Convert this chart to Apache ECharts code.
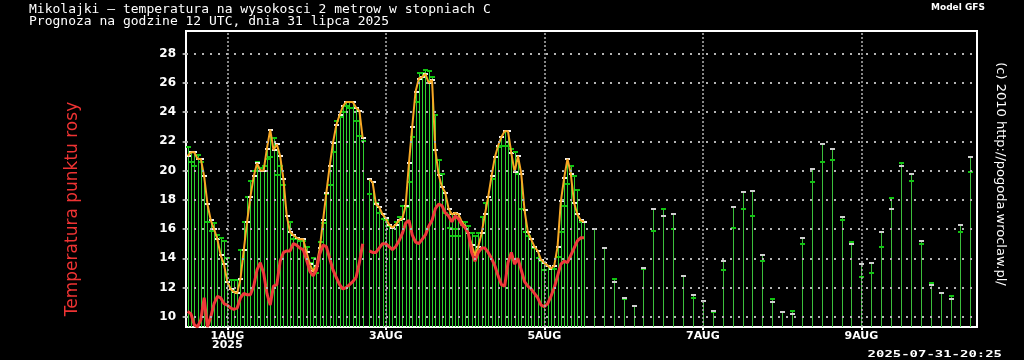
<!DOCTYPE html>
<html>
<head>
<meta charset="utf-8">
<script src="https://cdn.jsdelivr.net/npm/echarts@6/dist/echarts.min.js"></script>
<style>
html, body { margin: 0; background: #000; }
#chart { width: 1024px; height: 360px; }
</style>
</head>
<body>
<div id="chart"></div>
<script>
// godziny od 31 lipca 12 UTC; co godzine do h120, potem co 3h
var hourlyTemp = [21.0, 21.25, 21.25, 20.8, 20.8, 19.6, 17.7, 16.6, 16.0, 15.3,
    14.2, 13.6, 12.4, 11.9, 11.7, 11.6, 12.6, 14.6, 16.5, 18.2,
    19.6, 20.5, 20.0, 20.0, 21.5, 22.8, 21.4, 21.8, 21.0, 19.4,
    16.9, 15.8, 15.6, 15.4, 15.3, 15.3, 14.4, 13.6, 13.1, 13.5,
    14.7, 16.6, 18.5, 20.3, 21.9, 23.1, 23.8, 24.4, 24.7, 24.7,
    24.7, 24.3, 24.1, 22.2, null, 19.4, 19.2, 17.7, 17.5, 17.0,
    16.75, 16.3, 16.1, 16.3, 16.6, 16.7, 17.6, 20.5, 23.0, 25.4,
    26.3, 26.4, 26.6, 26.0, 26.2, 21.4, 19.7, 18.9, 18.5, 17.4,
    17.0, 17.1, 17.0, 16.5, 16.2, 15.7, 14.9, 14.2, 14.8, 15.7,
    17.0, 18.2, 19.6, 20.9, 21.7, 22.3, 22.7, 22.7, 21.2, 19.9,
    21.0, 19.8, 17.3, 15.8, 15.3, 14.8, 14.5, 13.9, 13.7, 13.5,
    13.3, 13.5, 14.8, 17.9, 19.5, 20.8, 19.8, 17.8, 17.0, 16.6,
    16.5];
// zielone kreski
var hourlyGreen = [21.6, 20.6, 20.3, 21.1, 20.6, 19.6, 16.5, 15.9, 16.4, 15.6,
    15.4, 15.2, 14.0, 12.5, 12.5, 12.5, 14.6, 16.5, 18.2, 19.3,
    20.0, 20.6, 20.2, 20.3, 20.8, 20.9, 22.2, 19.7, 20.3, 19.0,
    16.9, 16.5, 15.3, 15.3, 15.2, 15.2, 14.8, 13.7, 14.0, 13.0,
    15.1, 16.4, 18.4, 19.0, 21.3, 23.4, 23.7, 24.0, 24.4, 24.3,
    24.3, 23.4, 22.4, 22.0, null, 18.4, 19.2, 17.8, 17.1, 16.7,
    16.6, 16.2, 16.1, 16.5, 16.8, 17.6, 17.5, 19.2, 22.3, 24.7,
    26.7, 26.7, 26.9, 26.8, 26.4, 23.8, 20.7, 19.8, 17.1, 16.1,
    15.5, 16.0, 15.5, 16.3, 16.5, 16.2, 15.7, 15.5, 15.7, 16.8,
    17.8, 18.2, 19.4, 20.9, 21.6, 21.7, 21.7, 21.7, 21.5, 21.3,
    19.8, 17.4, 15.8, 15.5, 15.3, 14.7, 14.0, 13.8, 13.2, 13.5,
    13.3, 13.3, 14.1, 15.8, 17.6, 19.1, 20.3, 19.6, 18.7, 16.5,
    16.5];
var hourlyDew = [10.37, 10.2, 9.45, 9.3, 9.8, 11.3, 9.3, 10.0, 10.9, 11.4,
    11.3, 10.9, 10.8, 10.6, 10.5, 10.6, 11.3, 11.6, 11.5, 11.5,
    12.1, 13.2, 13.7, 13.0, 11.6, 10.8, 12.1, 12.2, 13.8, 14.4,
    14.5, 14.5, 15.0, 14.9, 14.7, 14.6, 13.9, 13.1, 12.8, 13.2,
    14.3, 14.9, 14.8, 14.0, 13.2, 12.7, 12.2, 11.9, 12.0, 12.2,
    12.4, 12.7, 13.7, 15.0, null, 14.5, 14.4, 14.4, 14.7, 15.0,
    15.0, 14.8, 14.6, 14.8, 15.2, 15.7, 16.4, 16.6, 15.6, 15.1,
    15.0, 15.3, 15.6, 16.2, 16.6, 17.4, 17.7, 17.6, 17.1, 16.9,
    16.5, 16.9, 16.7, 16.3, 16.1, 15.7, 14.4, 13.8, 14.4, 14.7,
    14.7, 14.4, 14.0, 13.5, 12.8, 12.2, 12.1, 13.7, 14.4, 13.6,
    14.0, 13.2, 12.4, 12.1, 11.9, 11.6, 11.3, 10.8, 10.7, 10.9,
    11.4, 12.0, 12.8, 13.6, 13.8, 13.7, 14.2, 14.7, 15.2, 15.4,
    15.4];

var sparseStart = 123;
var sparseStep = 3;
var sparseTemp = [16.0, 14.7, 12.4, 11.3, 10.75, 13.35, 17.4, 16.9, 17.0, 12.8,
    11.5, 11.1, 10.4, 13.8, 17.5, 18.55, 18.6, 14.2, 11.0, 10.3,
    10.2, 15.4, 20.1, 21.8, 21.5, 16.8, 15.0, 13.6, 13.7, 15.8,
    17.4, 20.3, 19.8, 15.2, 12.2, 11.6, 11.2, 16.3, 20.9];
var sparseGreen = [16.0, 14.7, 12.6, 11.2, 10.75, 13.25, 15.85, 17.4, 16.0, 12.8,
    11.3, 11.1, 10.3, 13.2, 16.1, 17.35, 16.9, 13.8, 11.2, 10.3,
    10.4, 15.0, 19.2, 20.6, 20.7, 16.6, 15.1, 12.7, 13.0, 14.8,
    18.1, 20.5, 19.3, 15.0, 12.3, 11.6, 11.4, 15.8, 19.9];

var yTicks = [10, 12, 14, 16, 18, 20, 22, 24, 26, 28];
var dayTicks = [12, 60, 108, 156, 204];
var dayLabels = ['1AUG\n2025', '3AUG', '5AUG', '7AUG', '9AUG'];
var yMin = 9.3, yMax = 29.55;

var hourlyItems = [], tempLine = [], dewLine = [];
hourlyTemp.forEach(function (t, h) {
    tempLine.push([h, t]);
    dewLine.push([h, hourlyDew[h]]);
    if (t != null || hourlyGreen[h] != null) hourlyItems.push([h, t, hourlyGreen[h]]);
});
var sparseItems = sparseTemp.map(function (t, i) {
    return [sparseStart + i * sparseStep, t, sparseGreen[i]];
});

function ok(v) { return v != null && !isNaN(v); }

function stemRenderer(stemColor, whiteColor) {
    return function (params, api) {
        var x = api.value(0), t = api.value(1), g = api.value(2);
        var vals = [t, g].filter(ok);
        if (!vals.length) return;
        var top = api.coord([x, Math.max.apply(null, vals)]);
        var base = api.coord([x, yMin]);
        var px = Math.round(top[0]) + 0.5; // ostra linia 1px
        var kids = [{
            type: 'line',
            shape: { x1: px, y1: base[1], x2: px, y2: top[1] },
            style: { stroke: stemColor, lineWidth: 1 }
        }];
        if (ok(g)) {
            var pg = api.coord([x, g]);
            kids.push({ type: 'rect', shape: { x: px - 2.5, y: Math.round(pg[1]) - 1, width: 5, height: 2 },
                style: { fill: '#12c412' } });
        }
        if (ok(t)) {
            var pt = api.coord([x, t]);
            kids.push({ type: 'rect', shape: { x: px - 2.5, y: Math.round(pt[1]) - 1, width: 5, height: 2 },
                style: { fill: whiteColor } });
        }
        return { type: 'group', children: kids };
    };
}

var dotColor = '#b4b4b4';

var myChart = echarts.init(document.getElementById('chart'));
var option = {
    backgroundColor: '#000',
    animation: false,
    title: {
        text: 'Mikolajki \u2014 temperatura na wysokosci 2 metrow w stopniach C\nPrognoza na godzine 12 UTC, dnia 31 lipca 2025',
        left: 29, top: 4, padding: 0,
        textStyle: { color: '#fff', fontFamily: 'DejaVu Sans Mono', fontSize: 13, fontWeight: 'normal', lineHeight: 12 }
    },
    graphic: [
        { type: 'text', left: 931, top: 3,
          style: { text: 'Model GFS', fill: '#fff', font: 'bold 9px "DejaVu Sans"' } },
        { type: 'text', x: 1000, y: 174, rotation: -Math.PI / 2,
          style: { text: '(c) 2010 http://pogoda.wroclaw.pl/', fill: '#fff', font: '13px "DejaVu Sans"',
                   align: 'center', verticalAlign: 'middle' } },
        { type: 'text', x: 73, y: 209, rotation: Math.PI / 2,
          style: { text: 'Temperatura punktu rosy', fill: '#ee3333', font: '17px "DejaVu Sans"',
                   align: 'center', verticalAlign: 'middle' } },
        { type: 'text', x: 1002, y: 355, scaleX: 1.55,
          style: { text: '2025-07-31-20:25', fill: '#fff', font: 'bold 9px "DejaVu Sans Mono"',
                   align: 'right', verticalAlign: 'middle' } }
    ],
    grid: {
        left: 186, right: 47, top: 31, bottom: 33,
        show: true, borderColor: '#fff', borderWidth: 2, backgroundColor: '#000'
    },
    xAxis: {
        type: 'value', min: -0.5, max: 239,
        axisLine: { show: false },
        splitLine: { show: false },
        axisTick: { customValues: dayTicks, length: 3, lineStyle: { color: '#fff', width: 2 } },
        axisLabel: {
            customValues: dayTicks, margin: 5,
            color: '#fff', fontFamily: 'DejaVu Sans', fontWeight: 'bold', fontSize: 11, lineHeight: 9,
            formatter: function (v) { return dayLabels[dayTicks.indexOf(v)]; }
        }
    },
    yAxis: {
        type: 'value', min: yMin, max: yMax,
        axisLine: { show: false },
        splitLine: { show: false },
        axisTick: { customValues: yTicks, length: 5, lineStyle: { color: '#ddd', width: 1.5 } },
        axisLabel: {
            customValues: yTicks, margin: 10,
            color: '#fff', fontFamily: 'DejaVu Sans', fontWeight: 'bold', fontSize: 12
        }
    },
    series: [
        {
            name: 'slupki', type: 'custom', clip: true,
            renderItem: stemRenderer('#2fd22f', '#f2f2f2'),
            encode: { x: 0, y: 1 },
            data: hourlyItems
        },
        {
            name: 'slupki3h', type: 'custom', clip: true,
            renderItem: stemRenderer('#3cbf3c', '#cfcfcf'),
            encode: { x: 0, y: 1 },
            data: sparseItems
        },
        {
            name: 'siatka', type: 'line', data: [], silent: true,
            markLine: {
                silent: true, symbol: 'none', label: { show: false },
                data: yTicks.map(function (v) {
                    return { yAxis: v, lineStyle: { color: dotColor, width: 2, type: [2, 6] } };
                }).concat(dayTicks.map(function (v) {
                    return { xAxis: v, lineStyle: { color: dotColor, width: 1.5, type: [2, 2] } };
                }))
            }
        },
        {
            name: 'temperatura', type: 'line', data: tempLine,
            showSymbol: false, connectNulls: false,
            lineStyle: { color: '#f8a825', width: 2 }
        },
        {
            name: 'punkt rosy', type: 'line', data: dewLine,
            showSymbol: false, connectNulls: false,
            lineStyle: { color: '#ee3a3a', width: 3 }
        }
    ]
};
myChart.setOption(option);
</script>
</body>
</html>
